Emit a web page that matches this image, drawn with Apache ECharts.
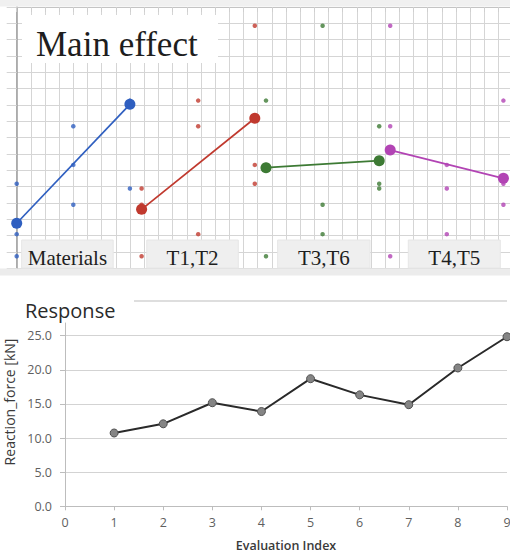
<!DOCTYPE html>
<html><head><meta charset="utf-8">
<script src="https://cdn.jsdelivr.net/npm/echarts@6/dist/echarts.min.js"></script>
<style>html,body{margin:0;padding:0;background:#fff}#c{width:510px;height:557px}</style>
</head><body><div id="c"></div>
<script>
// ---------- data ----------
const evalIndex = [1, 2, 3, 4, 5, 6, 7, 8, 9];
const reactionForce = [10.74, 12.09, 15.18, 13.89, 18.7, 16.33, 14.89, 20.27, 24.85];
const factorNames = ['Materials', 'T1,T2', 'T3,T6', 'T4,T5'];
const materialsLevels = [1, 1, 1, 2, 2, 2, 3, 3, 3];
const t1t2Levels = [1, 2, 3, 1, 2, 3, 1, 2, 3];
const t3t6Levels = [1, 2, 3, 2, 3, 1, 3, 1, 2];
const t4t5Levels = [1, 2, 3, 3, 1, 2, 2, 3, 1];
const materialsEffect = [12.76, 20.04];
const t1t2Effect = [13.61, 19.19];
const t3t6Effect = [16.16, 16.59];
const t4t5Effect = [17.24, 15.51];
const levelTicks = [1, 2, 3];
const responseTicks = [0, 5, 10, 15, 20, 25];
const indexTicks = [0, 1, 2, 3, 4, 5, 6, 7, 8, 9];

// ---------- layout / style ----------
const factorLevels = [materialsLevels, t1t2Levels, t3t6Levels, t4t5Levels];
const factorEffects = [materialsEffect, t1t2Effect, t3t6Effect, t4t5Effect];
const factorColors = ['#2f5fc0', '#c0392e', '#3d7a34', '#b244b4'];
const factorLeft = [16.7, 141.6, 266, 390.2];
const factorWidth = 113.2;
const labelBoxes = [[21.7, 91.5], [146.8, 91.5], [277.7, 92.3], [408.3, 92]];
const topPlotTop = 7, topPlotH = 261.3;
const GRID_C = '#d5d5d5';
const SERIF = '"Liberation Serif", "DejaVu Serif", serif';
const SANS = '"Open Sans", "Noto Sans", sans-serif';
const NB = {outerBoundsMode: 'none', containLabel: false};

const grids = [Object.assign({left: 16.7, top: topPlotTop, right: 0, height: topPlotH}, NB)];
const xAxes = [{
  type: 'value', gridIndex: 0, position: 'top', min: 0, max: 34.81, interval: 1,
  axisLine: {show: true, lineStyle: {color: '#c4c4c4', width: 1}},
  axisTick: {show: true, inside: true, length: 5, lineStyle: {color: '#cfcfcf'}},
  axisLabel: {show: false},
  splitLine: {show: true, lineStyle: {color: GRID_C, width: 1}}
}];
const yAxes = [{
  type: 'value', gridIndex: 0, min: 10, max: 26, interval: 1,
  axisLine: {show: true, lineStyle: {color: '#9c9c9c', width: 1.5}},
  axisTick: {show: true, length: 10, lineStyle: {color: GRID_C}},
  axisLabel: {show: false},
  splitLine: {show: true, lineStyle: {color: GRID_C, width: 1}}
}];
const series = [];

factorNames.forEach((name, i) => {
  grids.push(Object.assign({left: factorLeft[i], top: topPlotTop, width: factorWidth, height: topPlotH}, NB));
  xAxes.push({type: 'value', gridIndex: i + 1, min: levelTicks[0], max: levelTicks[levelTicks.length - 1], show: false});
  yAxes.push({type: 'value', gridIndex: i + 1, min: 10, max: 26, show: false});
  series.push({
    name: name + ' runs', type: 'scatter', xAxisIndex: i + 1, yAxisIndex: i + 1,
    symbolSize: 4.5, z: 3, silent: true,
    itemStyle: {color: factorColors[i]},
    data: factorLevels[i].map((lv, k) => [lv, reactionForce[k]])
  });
  series.push({
    name: name, type: 'line', xAxisIndex: i + 1, yAxisIndex: i + 1,
    symbol: 'circle', symbolSize: 11, z: 4, silent: true,
    lineStyle: {color: factorColors[i], width: 1.7},
    itemStyle: {color: factorColors[i]},
    data: [[levelTicks[0], factorEffects[i][0]], [levelTicks[2], factorEffects[i][1]]]
  });
});

// bottom chart: axis-line-only grid (extends above 25) and data grid
grids.push(Object.assign({left: 65, top: 323, width: 442, height: 183.3}, NB));
xAxes.push({type: 'value', gridIndex: 5, show: false, min: 0, max: 9});
yAxes.push({type: 'value', gridIndex: 5, min: 0, max: 1,
  axisLine: {show: true, lineStyle: {color: '#bdbdbd', width: 1}},
  axisTick: {show: false}, axisLabel: {show: false}, splitLine: {show: false}});

grids.push(Object.assign({left: 65, top: 335.7, width: 442, height: 170.6}, NB));
xAxes.push({
  type: 'value', gridIndex: 6, min: indexTicks[0], max: indexTicks[indexTicks.length - 1], interval: 1,
  name: 'Evaluation Index', nameLocation: 'middle', nameGap: 33,
  nameTextStyle: {color: '#3a3a3a', fontSize: 12.5, fontWeight: 600, fontFamily: SANS},
  axisLine: {show: true, lineStyle: {color: '#bdbdbd', width: 1}},
  axisTick: {show: true, length: 4, lineStyle: {color: '#bdbdbd'}},
  axisLabel: {color: '#5f5f5f', fontSize: 12.5, fontFamily: SANS, margin: 10},
  splitLine: {show: false}
});
yAxes.push({
  type: 'value', gridIndex: 6, min: responseTicks[0], max: responseTicks[responseTicks.length - 1], interval: 5,
  name: 'Reaction_force [kN]', nameLocation: 'middle', nameGap: 32, nameRotate: 90,
  nameTextStyle: {color: '#3a3a3a', fontSize: 14, fontFamily: SANS, padding: [0, 0, 0, 38]},
  axisLine: {show: false},
  axisTick: {show: true, length: 5, lineStyle: {color: '#bdbdbd'}},
  axisLabel: {color: '#5f5f5f', fontSize: 12.5, fontFamily: SANS, margin: 13, formatter: v => v.toFixed(1)},
  splitLine: {show: true, lineStyle: {color: '#d3d3d3', width: 1.2}}
});
series.push({
  name: 'Reaction_force', type: 'line', xAxisIndex: 6, yAxisIndex: 6,
  symbol: 'circle', symbolSize: 8, z: 5, silent: true,
  lineStyle: {color: '#2a2a2a', width: 2},
  itemStyle: {color: '#858585', borderColor: '#505050', borderWidth: 1},
  data: evalIndex.map((e, k) => [e, reactionForce[k]])
});

// ---------- decorations ----------
const graphic = [
  {type: 'rect', z: 50, shape: {x: 0, y: 0, width: 510, height: 6.5}, style: {fill: '#f0f0f0'}},
  {type: 'rect', z: 50, shape: {x: 0, y: 268.5, width: 510, height: 7}, style: {fill: '#ececec'}},
  {type: 'rect', z: 50, shape: {x: 22, y: 15, width: 196, height: 48}, style: {fill: '#ffffff'}},
  {type: 'text', z: 51, x: 36, y: 44, style: {text: 'Main effect', font: '35px ' + SERIF, fill: '#1e1e1e', verticalAlign: 'middle'}},
  {type: 'text', z: 51, x: 25, y: 310, style: {text: 'Response', font: '20px ' + SANS, fill: '#2a2a2a', verticalAlign: 'middle'}},
  {type: 'line', z: 51, shape: {x1: 134, y1: 301, x2: 507, y2: 301}, style: {stroke: '#bdbdbd', lineWidth: 1}}
];
factorNames.forEach((name, i) => {
  const b = labelBoxes[i];
  graphic.push({type: 'rect', z: 50, shape: {x: b[0], y: 240, width: b[1], height: 28}, style: {fill: '#efefef', stroke: '#e6e6e6', lineWidth: 1}});
  graphic.push({type: 'text', z: 51, x: b[0] + b[1] / 2, y: 257.5, style: {text: name, font: '21px ' + SERIF, fill: '#1e1e1e', align: 'center', verticalAlign: 'middle'}});
});

const chart = echarts.init(document.getElementById('c'), null, {renderer: 'svg'});
chart.setOption({
  animation: false,
  backgroundColor: '#ffffff',
  grid: grids, xAxis: xAxes, yAxis: yAxes, series: series, graphic: graphic
});
</script>
</body></html>
